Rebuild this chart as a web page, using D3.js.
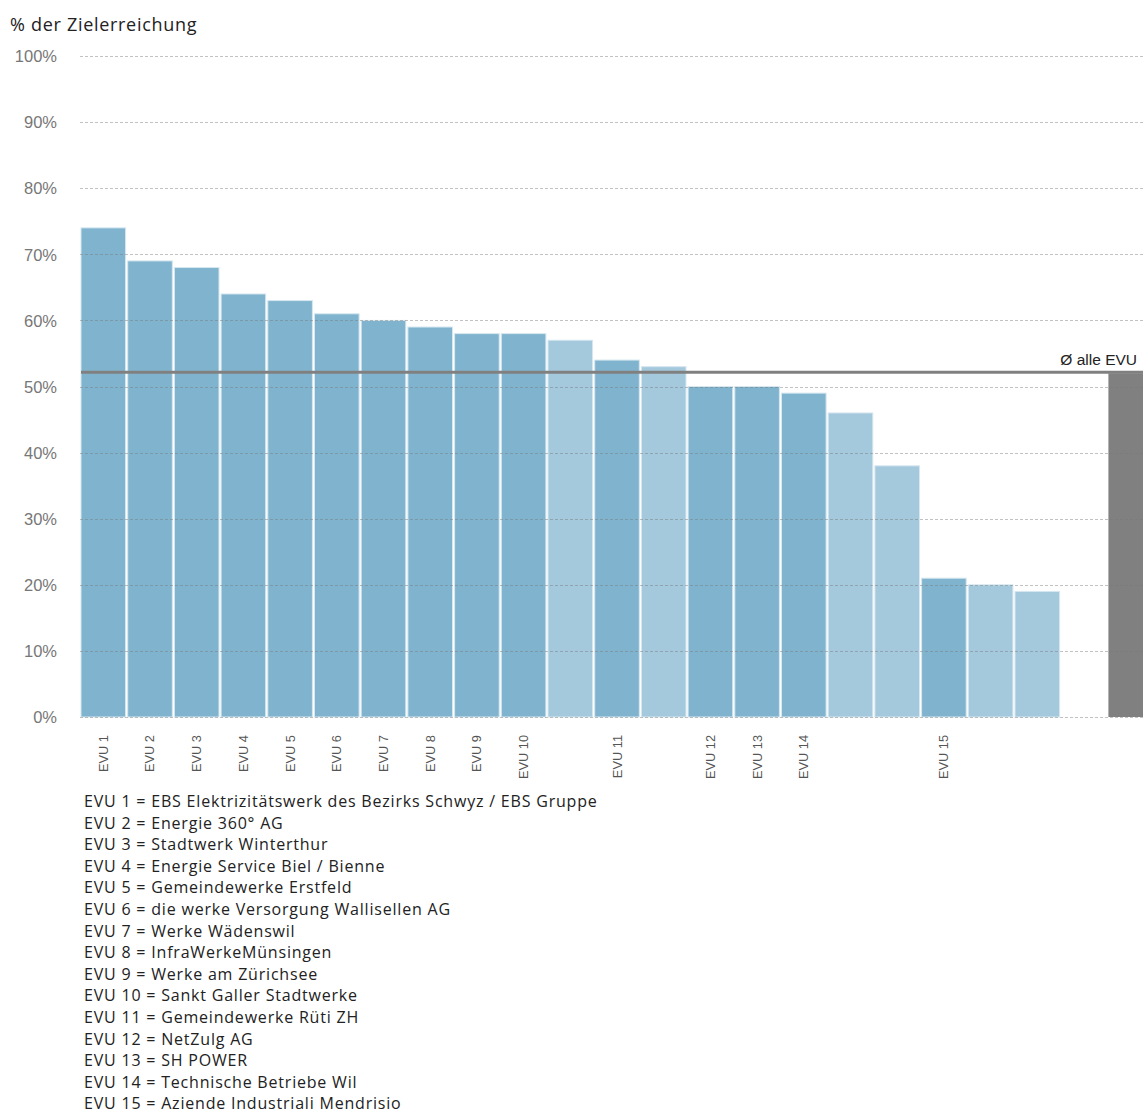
<!DOCTYPE html>
<html>
<head>
<meta charset="utf-8">
<script src="https://cdn.jsdelivr.net/npm/d3@7"></script>
<style>
  html, body { margin: 0; padding: 0; background: #fff; }
  svg { display: block; }
</style>
</head>
<body>
<svg id="chart" width="1143" height="1112"></svg>
<script>
// ---- data ----
const barLabels = ["EVU 1","EVU 2","EVU 3","EVU 4","EVU 5","EVU 6","EVU 7","EVU 8","EVU 9","EVU 10",
                   "","EVU 11","","EVU 12","EVU 13","EVU 14","","","EVU 15","","","",""];
const barValues = [74,69,68,64,63,61,60,59,58,58,57,54,53,50,50,49,46,38,21,20,19,0,52];
const barTypes  = ["evu","evu","evu","evu","evu","evu","evu","evu","evu","evu",
                   "other","evu","other","evu","evu","evu","other","other","evu","other","other","other","avg"];
const averageValue = 52;
const averageLabel = "Ø alle EVU";
const yTicks = [0,10,20,30,40,50,60,70,80,90,100];
const yTitle = "% der Zielerreichung";
const legendLines = [
  "EVU 1 = EBS Elektrizitätswerk des Bezirks Schwyz / EBS Gruppe",
  "EVU 2 = Energie 360° AG",
  "EVU 3 = Stadtwerk Winterthur",
  "EVU 4 = Energie Service Biel / Bienne",
  "EVU 5 = Gemeindewerke Erstfeld",
  "EVU 6 = die werke Versorgung Wallisellen AG",
  "EVU 7 = Werke Wädenswil",
  "EVU 8 = InfraWerkeMünsingen",
  "EVU 9 = Werke am Zürichsee",
  "EVU 10 = Sankt Galler Stadtwerke",
  "EVU 11 = Gemeindewerke Rüti ZH",
  "EVU 12 = NetZulg AG",
  "EVU 13 = SH POWER",
  "EVU 14 = Technische Betriebe Wil",
  "EVU 15 = Aziende Industriali Mendrisio"
];

// ---- layout ----
const svg = d3.select("#chart");
const W = 1143;
const plotLeft = 81, plotRight = 1153, plotTop = 56, plotBottom = 717;
const colors = { evu: "#80b4ce", other: "#a5c9dc", avg: "#808080" };

const idx = barValues.map((d, i) => i);
const x = d3.scaleBand().domain(idx).range([plotLeft, plotRight]).paddingInner(0.045).paddingOuter(0);
const y = d3.scaleLinear().domain([0, 100]).range([plotBottom, plotTop]);

// title
svg.append("text")
  .attr("x", 10).attr("y", 31)
  .attr("font-family", "'Open Sans', 'Noto Sans', sans-serif")
  .attr("font-size", 18)
  .attr("letter-spacing", 0.7)
  .attr("fill", "#222")
  .text(yTitle);

// bars
svg.append("g").selectAll("rect")
  .data(idx)
  .join("rect")
  .attr("x", i => x(i))
  .attr("width", x.bandwidth())
  .attr("y", i => y(barValues[i]))
  .attr("height", i => y(0) - y(barValues[i]))
  .attr("fill", i => colors[barTypes[i]])
  .attr("stroke", i => barTypes[i] === "avg" ? "none" : "#d6e7f0")
  .attr("stroke-width", 1);

// y axis labels
const yAxis = d3.axisLeft(y).tickValues(yTicks).tickFormat(d => d + "%").tickSize(0).tickPadding(0);
const gAxis = svg.append("g").attr("transform", `translate(57,0)`).call(yAxis);
gAxis.select(".domain").remove();
gAxis.selectAll("text")
  .attr("font-family", "'Liberation Sans', Arial, sans-serif")
  .attr("font-size", 16.5)
  .attr("fill", "#777")
  .attr("dy", "0.35em");

// gridlines (on top of bars)
svg.append("g").selectAll("line")
  .data(yTicks)
  .join("line")
  .attr("x1", 80).attr("x2", W)
  .attr("y1", d => Math.round(y(d)) + 0.5).attr("y2", d => Math.round(y(d)) + 0.5)
  .attr("stroke", "rgba(120,120,120,0.45)")
  .attr("stroke-width", 1)
  .attr("stroke-dasharray", "3,2");

// average line
svg.append("line")
  .attr("x1", plotLeft).attr("x2", W)
  .attr("y1", y(averageValue) - 1).attr("y2", y(averageValue) - 1)
  .attr("stroke", "#808080")
  .attr("stroke-width", 3);

svg.append("text")
  .attr("x", 1137).attr("y", y(averageValue) - 8)
  .attr("text-anchor", "end")
  .attr("font-family", "'Liberation Sans', Arial, sans-serif")
  .attr("font-size", 15.5)
  .attr("fill", "#222")
  .text(averageLabel);

// x labels
svg.append("g").selectAll("text")
  .data(idx.filter(i => barLabels[i] !== ""))
  .join("text")
  .attr("transform", i => `translate(${x(i) + x.bandwidth() / 2 + 4.5},735) rotate(-90)`)
  .attr("text-anchor", "end")
  .attr("font-family", "'Liberation Sans', Arial, sans-serif")
  .attr("font-size", 12.8)
  .attr("fill", "#555")
  .text(i => barLabels[i]);

// legend
svg.append("g").selectAll("text")
  .data(legendLines)
  .join("text")
  .attr("x", 84)
  .attr("y", (d, i) => 807 + i * 21.6)
  .attr("font-family", "'Open Sans', 'Noto Sans', sans-serif")
  .attr("font-size", 16)
  .attr("letter-spacing", 0.8)
  .attr("fill", "#222")
  .text(d => d);
</script>
</body>
</html>
